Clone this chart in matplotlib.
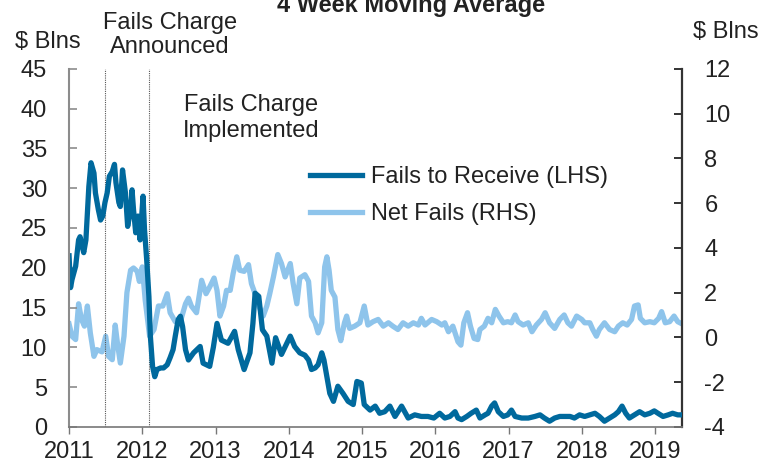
import numpy as np
import matplotlib.pyplot as plt

plt.rcParams["font.family"] = ["Liberation Sans", "DejaVu Sans"]
plt.rcParams["axes.unicode_minus"] = False

# fails to receive, $ bln (left axis), 4 week moving average
ftr_dates = [
    2011.00, 2011.02, 2011.04, 2011.09, 2011.13, 2011.15, 2011.20, 2011.23,
    2011.27, 2011.30, 2011.34, 2011.36, 2011.40, 2011.43, 2011.46, 2011.49,
    2011.52, 2011.55, 2011.59, 2011.62, 2011.64, 2011.68, 2011.70, 2011.73,
    2011.77, 2011.80, 2011.84, 2011.86, 2011.88, 2011.91, 2011.94, 2011.97,
    2012.01, 2012.03, 2012.06, 2012.09, 2012.11, 2012.14, 2012.17, 2012.20,
    2012.25, 2012.29, 2012.34, 2012.38, 2012.42, 2012.45, 2012.49, 2012.52,
    2012.55, 2012.59, 2012.63, 2012.70, 2012.79, 2012.83, 2012.92, 2012.97,
    2013.02, 2013.08, 2013.17, 2013.26, 2013.31, 2013.39, 2013.47, 2013.51,
    2013.54, 2013.59, 2013.64, 2013.70, 2013.77, 2013.82, 2013.90, 2014.02,
    2014.08, 2014.15, 2014.22, 2014.27, 2014.31, 2014.36, 2014.40, 2014.45,
    2014.48, 2014.52, 2014.56, 2014.61, 2014.67, 2014.74, 2014.81, 2014.88,
    2014.93, 2014.99, 2015.03, 2015.11, 2015.18, 2015.24, 2015.31, 2015.38,
    2015.45, 2015.54, 2015.63, 2015.72, 2015.81, 2015.90, 2015.98, 2016.06,
    2016.13, 2016.20, 2016.27, 2016.31, 2016.36, 2016.43, 2016.49, 2016.56,
    2016.61, 2016.68, 2016.72, 2016.77, 2016.81, 2016.86, 2016.93, 2016.99,
    2017.04, 2017.09, 2017.18, 2017.27, 2017.36, 2017.43, 2017.49, 2017.56,
    2017.63, 2017.70, 2017.77, 2017.84, 2017.90, 2017.97, 2018.04, 2018.11,
    2018.18, 2018.24, 2018.31, 2018.38, 2018.45, 2018.50, 2018.55, 2018.60,
    2018.65, 2018.72, 2018.79, 2018.86, 2018.93, 2018.99, 2019.04, 2019.11,
    2019.18, 2019.24, 2019.31, 2019.37,
]
ftr_values = [
    21.5, 17.5, 18.5, 20.2, 23.5, 23.9, 21.9, 23.5,
    30.2, 33.2, 31.9, 29.4, 27.3, 26.0, 26.5, 28.2,
    29.4, 31.5, 32.1, 33.0, 30.7, 28.2, 27.7, 32.3,
    29.4, 25.2, 27.3, 29.8, 27.3, 24.4, 26.5, 23.5,
    29.0, 24.8, 21.0, 16.4, 11.4, 7.6, 6.3, 7.2,
    7.4, 7.4, 7.8, 8.7, 9.7, 11.4, 13.5, 13.9,
    12.6, 9.7, 8.4, 9.3, 10.1, 8.0, 7.6, 10.0,
    13.0, 10.9, 10.5, 12.0, 9.7, 7.2, 9.3, 13.0,
    16.8, 16.4, 12.2, 11.4, 8.0, 11.2, 9.1, 11.4,
    10.1, 9.3, 9.0, 8.4, 7.2, 7.4, 7.8, 9.3,
    8.4, 6.3, 4.2, 3.2, 5.1, 4.2, 3.2, 2.8,
    5.7, 5.5, 2.8, 2.1, 2.6, 1.7, 1.9, 2.6,
    1.3, 2.6, 1.1, 1.5, 1.3, 1.3, 1.1, 1.7,
    1.1, 1.3, 1.9, 1.1, 0.9, 1.3, 1.7, 2.1,
    1.1, 1.5, 1.7, 2.6, 3.0, 1.9, 1.3, 1.5,
    2.1, 1.3, 1.1, 1.1, 1.3, 1.5, 1.1, 0.7,
    1.1, 1.3, 1.3, 1.3, 1.1, 1.5, 1.3, 1.5,
    1.7, 1.3, 0.7, 1.1, 1.5, 1.9, 2.6, 1.7,
    1.1, 1.5, 1.9, 1.5, 1.7, 2.0, 1.7, 1.3,
    1.5, 1.7, 1.5, 1.5,
]

# net fails, $ bln (right axis)
net_dates = [
    2011.00, 2011.04, 2011.09, 2011.13, 2011.17, 2011.21, 2011.25, 2011.29,
    2011.34, 2011.38, 2011.45, 2011.50, 2011.54, 2011.59, 2011.63, 2011.66,
    2011.70, 2011.75, 2011.79, 2011.84, 2011.88, 2011.93, 2011.96, 2012.00,
    2012.04, 2012.10, 2012.16, 2012.22, 2012.28, 2012.34, 2012.38, 2012.45,
    2012.52, 2012.59, 2012.63, 2012.67, 2012.74, 2012.81, 2012.87, 2012.92,
    2012.98, 2013.02, 2013.06, 2013.11, 2013.15, 2013.20, 2013.24, 2013.29,
    2013.33, 2013.39, 2013.45, 2013.49, 2013.54, 2013.59, 2013.65, 2013.70,
    2013.74, 2013.79, 2013.85, 2013.90, 2013.95, 2014.02, 2014.06, 2014.11,
    2014.15, 2014.22, 2014.27, 2014.31, 2014.36, 2014.40, 2014.45, 2014.49,
    2014.52, 2014.55, 2014.58, 2014.63, 2014.67, 2014.71, 2014.76, 2014.79,
    2014.83, 2014.90, 2014.97, 2015.03, 2015.08, 2015.15, 2015.22, 2015.29,
    2015.36, 2015.42, 2015.49, 2015.56, 2015.63, 2015.70, 2015.77, 2015.81,
    2015.86, 2015.95, 2016.02, 2016.09, 2016.13, 2016.18, 2016.24, 2016.31,
    2016.35, 2016.39, 2016.44, 2016.48, 2016.53, 2016.58, 2016.61, 2016.67,
    2016.72, 2016.77, 2016.82, 2016.87, 2016.93, 2016.99, 2017.04, 2017.09,
    2017.13, 2017.20, 2017.27, 2017.32, 2017.38, 2017.45, 2017.50, 2017.56,
    2017.63, 2017.70, 2017.76, 2017.81, 2017.86, 2017.93, 2018.00, 2018.04,
    2018.11, 2018.15, 2018.20, 2018.24, 2018.31, 2018.38, 2018.45, 2018.50,
    2018.56, 2018.62, 2018.68, 2018.72, 2018.77, 2018.80, 2018.86, 2018.93,
    2018.99, 2019.05, 2019.09, 2019.14, 2019.20, 2019.26, 2019.31, 2019.37,
]
net_values = [
    0.6, 0.05, -0.1, 1.5, 0.8, 0.5, 1.4, 0.2,
    -0.85, -0.55, -0.65, 0.05, -0.85, -1.0, 0.55, -0.25,
    -1.15, 0.05, 2.0, 3.0, 3.1, 2.95, 2.5, 3.15,
    1.65, 0.05, 0.35, 1.4, 1.4, 1.95, 1.1, 0.7,
    0.7, 1.5, 1.75, 1.4, 1.1, 2.55, 1.95, 2.25,
    2.65, 2.1, 0.95, 1.4, 2.1, 2.1, 2.85, 3.6,
    3.0, 2.95, 3.25, 2.4, 1.95, 1.4, 0.95, 1.4,
    1.95, 2.7, 3.7, 3.3, 2.7, 3.3, 2.4, 1.5,
    2.65, 2.8, 2.5, 0.95, 0.65, 0.2, 0.65, 3.15,
    3.6, 3.0, 2.1, 1.8, 0.35, -0.15, 0.65, 0.95,
    0.4, 0.5, 0.65, 1.4, 0.55, 0.7, 0.8, 0.5,
    0.65, 0.5, 0.35, 0.65, 0.5, 0.65, 0.55, 0.85,
    0.55, 0.8, 0.7, 0.55, 0.65, 0.25, 0.5, -0.2,
    -0.35, 0.65, 1.1, 0.5, -0.05, -0.1, 0.35, 0.5,
    0.85, 0.65, 1.25, 0.95, 0.65, 0.7, 0.65, 1.0,
    0.7, 0.55, 0.65, 0.25, 0.55, 0.8, 1.1, 0.65,
    0.4, 0.8, 1.0, 0.65, 0.5, 0.95, 0.8, 0.65,
    0.65, 0.35, 0.05, 0.35, 0.65, 0.35, 0.25, 0.5,
    0.65, 0.55, 0.8, 1.4, 1.45, 0.85, 0.65, 0.7,
    0.65, 0.85, 1.15, 0.65, 0.7, 0.95, 0.7, 0.6,
]

events = [2011.49, 2012.09]
year_ticks = list(range(2011, 2020))

dark = "#00699d"
light = "#8ec4eb"
txt = "#222222"
fs = 17

fig = plt.figure(figsize=(7.76, 4.69), dpi=100)
ax = fig.add_axes([0.089, 0.090, 0.790, 0.763])
ax2 = ax.twinx()
ax.set_zorder(ax2.get_zorder() + 1)
ax.patch.set_visible(False)

for d in events:
    ax.axvline(d, color="#555555", lw=0.8, ls=(0, (1, 1)), zorder=1)

l2, = ax2.plot(net_dates, net_values, color=light, lw=3.8,
               solid_joinstyle="round", label="Net Fails (RHS)")
l1, = ax.plot(ftr_dates, ftr_values, color=dark, lw=3.8,
              solid_joinstyle="round", label="Fails to Receive (LHS)")

ax.set_xlim(2011, 2019.37)
ax.set_ylim(0, 45)
ax.set_yticks(np.arange(0, 46, 5))
ax2.set_ylim(-4, 12)
ax2.set_yticks(np.arange(-4, 13, 2))
ax.set_xticks(year_ticks)

for a in (ax, ax2):
    a.spines["top"].set_visible(False)
ax.spines["left"].set_color("#8c8c8c")
ax.spines["left"].set_linewidth(1.5)
ax.spines["right"].set_visible(False)
ax.spines["bottom"].set_color("#777777")
ax.spines["bottom"].set_linewidth(1.2)
ax2.spines["right"].set_color("#333333")
ax2.spines["right"].set_linewidth(1.6)
ax2.spines["left"].set_visible(False)
ax2.spines["bottom"].set_visible(False)

ax.tick_params(axis="y", direction="in", length=6, width=1.2, color="#8c8c8c",
               pad=16, labelsize=fs, labelcolor=txt)
ax.tick_params(axis="x", direction="out", length=5, width=1.0, color="#777777",
               pad=5, labelsize=fs, labelcolor=txt)
ax2.tick_params(axis="y", direction="in", length=6, width=1.4, color="#333333",
                pad=16, labelsize=fs, labelcolor=txt)

fig.text(0.53, 1 - 12 / 469, "4 Week Moving Average", ha="center",
         va="baseline", fontsize=fs, fontweight="bold", color=txt)
fig.text(15 / 776, 1 - 42 / 469, "$ Blns", ha="left", va="center",
         fontsize=fs, color=txt)
fig.text(693 / 776, 1 - 32 / 469, "$ Blns", ha="left", va="center",
         fontsize=fs, color=txt)
fig.text(170 / 776, 1 - 35 / 469, "Fails Charge\nAnnounced", ha="center",
         va="center", fontsize=fs, color=txt, linespacing=1.15)
fig.text(251 / 776, 1 - 118 / 469, "Fails Charge\nImplemented", ha="center",
         va="center", fontsize=fs, color=txt, linespacing=1.2)

fig.legend([l1, l2], [l1.get_label(), l2.get_label()], loc="upper left",
           bbox_to_anchor=(310 / 776, 1 - 166 / 469), frameon=False,
           fontsize=fs, handlelength=2.2, handletextpad=0.4, borderpad=0,
           borderaxespad=0, labelspacing=0.65, labelcolor=txt)

fig.savefig("out.png", dpi=100)
